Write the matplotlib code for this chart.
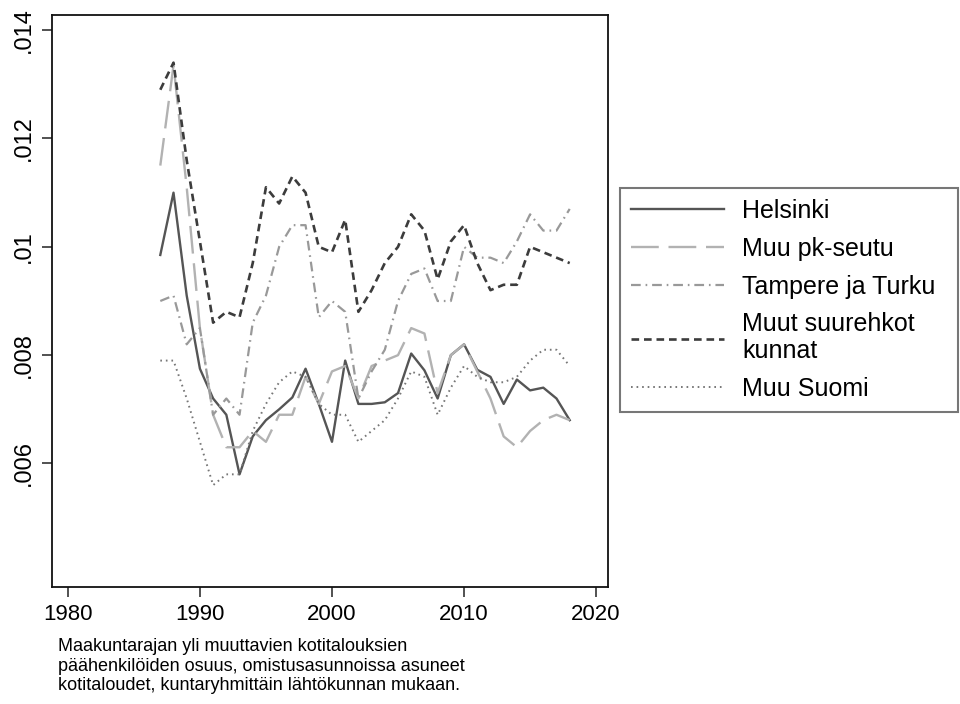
import matplotlib
matplotlib.use("Agg")
import matplotlib.pyplot as plt

plt.rcParams['font.family'] = ['Liberation Sans', 'DejaVu Sans']
plt.rcParams['lines.scale_dashes'] = False

years = list(range(1987, 2019))

# osuudet kuntaryhmittäin, luettu kuvasta
helsinki = [0.00985, 0.0110, 0.0091, 0.00775, 0.0072, 0.0069, 0.0058, 0.0065,
            0.0068, 0.0070, 0.00722, 0.00775, 0.0071, 0.0064, 0.0079, 0.0071,
            0.0071, 0.00713, 0.0073, 0.00803, 0.00772, 0.0072, 0.0080, 0.0082,
            0.00773, 0.0076, 0.0071, 0.00755, 0.00735, 0.0074, 0.0072, 0.0068]
muu_pk = [0.0115, 0.01335, 0.0111, 0.0085, 0.0069, 0.0063, 0.0063, 0.0066,
          0.0064, 0.0069, 0.0069, 0.0076, 0.0071, 0.0077, 0.0078, 0.0072,
          0.0078, 0.0079, 0.0080, 0.0085, 0.0084, 0.0073, 0.0080, 0.0082,
          0.0077, 0.0072, 0.0065, 0.0063, 0.0066, 0.0068, 0.0069, 0.0068]
tampere_turku = [0.0090, 0.0091, 0.0082, 0.0085, 0.0069, 0.0072, 0.0069, 0.0086,
                 0.0091, 0.0100, 0.0104, 0.0104, 0.0087, 0.0090, 0.0088, 0.0072,
                 0.0077, 0.0081, 0.0090, 0.0095, 0.0096, 0.0090, 0.0090, 0.0100,
                 0.0098, 0.0098, 0.0097, 0.0101, 0.0106, 0.0103, 0.0103, 0.0107]
muut_suurehkot = [0.0129, 0.0134, 0.0116, 0.0101, 0.0086, 0.0088, 0.0087, 0.0097,
                  0.0111, 0.0108, 0.0113, 0.0110, 0.0100, 0.0099, 0.0105, 0.0088,
                  0.0092, 0.0097, 0.0100, 0.0106, 0.0103, 0.0094, 0.0101, 0.0104,
                  0.0097, 0.0092, 0.0093, 0.0093, 0.0100, 0.0099, 0.0098, 0.0097]
muu_suomi = [0.0079, 0.0079, 0.0072, 0.0064, 0.0056, 0.0058, 0.0058, 0.0066,
             0.0071, 0.0075, 0.0077, 0.0076, 0.0071, 0.0069, 0.0069, 0.0064,
             0.0066, 0.0068, 0.0072, 0.0077, 0.0076, 0.0069, 0.0074, 0.0078,
             0.0076, 0.0075, 0.0075, 0.0076, 0.0079, 0.0081, 0.0081, 0.0078]

xticks = [1980, 1990, 2000, 2010, 2020]
yticks = [0.006, 0.008, 0.01, 0.012, 0.014]
yticklabels = ['.006', '.008', '.01', '.012', '.014']

caption = ("Maakuntarajan yli muuttavien kotitalouksien\n"
           "päähenkilöiden osuus, omistusasunnoissa asuneet\n"
           "kotitaloudet, kuntaryhmittäin lähtökunnan mukaan.")

fig = plt.figure(figsize=(9.6, 7.04), dpi=100)
ax = fig.add_axes([52/960, 1-587/704, 556/960, 572/704])

ax.plot(years, helsinki, color='#555555', lw=1.7, label='Helsinki')
ax.plot(years, muu_pk, color='#b2b2b2', lw=1.7, dashes=(20, 7), label='Muu pk-seutu')
ax.plot(years, tampere_turku, color='#999999', lw=1.6, dashes=(7, 3.5, 1.2, 3.5),
        label='Tampere ja Turku')
ax.plot(years, muut_suurehkot, color='#3c3c3c', lw=1.9, dashes=(5.5, 3.5),
        label='Muut suurehkot\nkunnat')
ax.plot(years, muu_suomi, color='#777777', lw=1.4, dashes=(1.2, 2.8), label='Muu Suomi')

ax.set_xlim(1978.8, 2020.9)
ax.set_ylim(0.00372, 0.01428)
ax.set_xticks(xticks)
ax.set_yticks(yticks)
ax.set_yticklabels(yticklabels, rotation=90, va='center')
ax.tick_params(axis='both', length=7, width=1.2, color='#333333')
ax.tick_params(axis='x', labelsize=16, pad=5)
ax.tick_params(axis='y', labelsize=17, pad=5)
for s in ax.spines.values():
    s.set_linewidth(1.3)
    s.set_color('#111111')

handles, labels = ax.get_legend_handles_labels()
leg = fig.legend(handles, labels, loc='center left',
                 bbox_to_anchor=(620/960, 1-410/704, 338/960, 220/704),
                 mode='expand', fontsize=18,
                 frameon=True, fancybox=False, edgecolor='#555555',
                 handlelength=3.7, handletextpad=0.75, labelspacing=0.55,
                 borderpad=0.45, borderaxespad=0)
leg.get_frame().set_linewidth(1.5)
for t in leg.get_texts():
    t.set_linespacing(1.15)

fig.text(58/960, 1-638/704, caption, fontsize=13, va='top', ha='left',
         linespacing=1.2)

fig.savefig('out.png', dpi=100)
